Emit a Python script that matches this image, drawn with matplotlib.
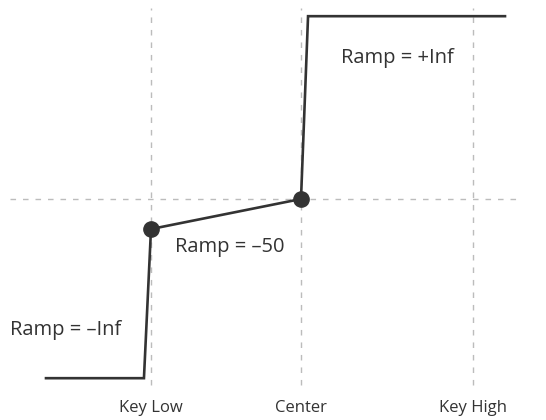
import matplotlib
matplotlib.use("Agg")
import matplotlib.pyplot as plt

# Data
key_labels = ["Key Low", "Center", "Key High"]
key_pos = [0.0, 1.0, 2.147]
center_level = 0.0
curve_x = [-0.70, -0.047, 0.0, 1.0, 1.047, 2.36]
curve_y = [-0.99, -0.99, -0.166, 0.0, 1.01, 1.01]
point_x = [0.0, 1.0]
point_y = [-0.166, 0.0]
ramp_labels = ["Ramp = +Inf", "Ramp = –50", "Ramp = –Inf"]
ramp_x = [1.64, 0.527, -0.567]
ramp_y = [0.78, -0.265, -0.724]

plt.rcParams['font.family'] = ['Open Sans', 'DejaVu Sans']

fig = plt.figure(figsize=(5.46, 4.20), dpi=100)
ax = fig.add_axes([0, 0, 1, 1])
ax.set_xlim(-151/150, 395/150)
ax.set_ylim(-221/181, 199/181)
ax.axis('off')

grid_kw = dict(color='#bcbcbc', linewidth=1.0, linestyle=(0, (4, 5)), zorder=1)
ax.vlines(key_pos, -1.028, 1.055, **grid_kw)
ax.hlines([center_level], -0.94, 2.46, **grid_kw)

ax.plot(curve_x, curve_y, color='#333333', linewidth=1.9, solid_joinstyle='miter', zorder=2)
ax.plot(point_x, point_y, 'o', color='#333333', markersize=11, zorder=3)

for lbl, x in zip(key_labels, key_pos):
    ax.text(x, -1.155, lbl, ha='center', va='center', fontsize=12, color='#333333')

for lbl, x, y in zip(ramp_labels, ramp_x, ramp_y):
    ax.text(x, y, lbl, ha='center', va='center', fontsize=14.5, color='#333333')

fig.savefig('out.png', dpi=100)
